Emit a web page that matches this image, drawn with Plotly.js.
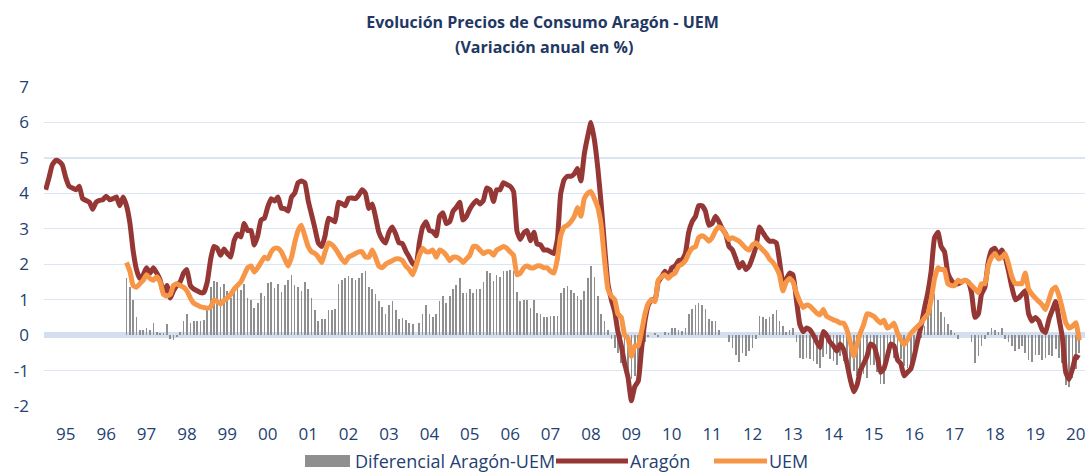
<!DOCTYPE html>
<html>
<head>
<meta charset="utf-8">
<script src="https://cdn.plot.ly/plotly-3.0.1.min.js"></script>
<style>
html,body{margin:0;padding:0;background:#ffffff;}
#chart{width:1085px;height:475px;}
</style>
</head>
<body>
<div id="chart"></div>
<script>
// Monthly annual-rate series (Jan 1995 .. Aug 2020)
const aragonStartYear = 1995;
const aragon = [
  4.1, 4.45, 4.8, 4.93, 4.9, 4.8, 4.45, 4.2, 4.15, 4.1, 4.2, 3.85,        // 1995
  3.8, 3.75, 3.55, 3.75, 3.8, 3.82, 3.92, 3.82, 3.85, 3.9, 3.65, 3.9,     // 1996
  3.65, 3.15, 2.4, 1.85, 1.6, 1.7, 1.9, 1.75, 1.9, 1.75, 1.55, 1.2,       // 1997
  1.4, 1.05, 1.25, 1.4, 1.5, 1.75, 1.85, 1.4, 1.3, 1.25, 1.2, 1.2,        // 1998
  1.5, 2.15, 2.5, 2.45, 2.25, 2.43, 2.3, 2.2, 2.67, 2.85, 2.77, 3.15,     // 1999
  2.95, 2.95, 2.54, 2.8, 3.25, 3.3, 3.62, 3.85, 3.78, 3.9, 3.58, 3.57,    // 2000
  3.5, 3.9, 4.0, 4.3, 4.35, 4.3, 3.8, 3.4, 3.0, 2.6, 2.5, 2.8,            // 2001
  3.3, 3.25, 3.2, 3.75, 3.71, 3.65, 3.86, 3.87, 3.85, 3.95, 4.1, 4.0,     // 2002
  3.57, 3.7, 3.35, 2.9, 2.7, 2.6, 2.9, 3.05, 2.85, 2.6, 2.58, 2.37,       // 2003
  2.2, 2.02, 1.95, 2.6, 3.05, 3.2, 2.95, 2.92, 2.8, 3.35, 3.45, 3.15,     // 2004
  3.2, 3.5, 3.6, 3.75, 3.25, 3.35, 3.55, 3.7, 3.8, 3.7, 3.8, 4.15,        // 2005
  4.1, 3.77, 4.1, 4.1, 4.3, 4.25, 4.2, 4.05, 2.93, 2.7, 2.88, 2.95,       // 2006
  2.66, 2.9, 2.57, 2.55, 2.4, 2.4, 2.35, 2.3, 2.7, 3.99, 4.38, 4.48,      // 2007
  4.48, 4.55, 4.7, 4.35, 5.1, 5.6, 6.0, 5.5, 4.7, 3.7, 2.5, 1.45,         // 2008
  1.0, 0.65, 0.1, -0.3, -0.8, -1.2, -1.85, -1.45, -1.3, -0.4, 0.4, 0.85,  // 2009
  1.0, 1.0, 1.5, 1.65, 1.8, 1.65, 1.9, 1.95, 2.1, 2.12, 2.3, 2.9,         // 2010
  3.2, 3.35, 3.65, 3.65, 3.5, 3.1, 3.15, 3.35, 3.2, 3.0, 2.85, 2.5,       // 2011
  2.4, 2.15, 1.9, 2.05, 1.85, 1.95, 2.2, 2.5, 3.05, 2.9, 2.75, 2.65,      // 2012
  2.65, 2.6, 2.1, 1.5, 1.58, 1.75, 1.7, 1.0, 0.3, 0.1, 0.2, 0.15,         // 2013
  0.0, -0.2, -0.35, 0.1, 0.0, -0.2, -0.3, -0.45, -0.25, -0.4, -0.8, -1.25, // 2014
  -1.6, -1.4, -1.0, -0.8, -0.6, -0.25, -0.3, -0.6, -1.05, -0.95, -0.6, -0.25, // 2015
  -0.3, -0.7, -0.8, -1.15, -1.05, -0.95, -0.6, -0.15, 0.25, 0.75, 1.2, 1.8,   // 2016
  2.75, 2.9, 2.5, 2.35, 1.75, 1.55, 1.45, 1.45, 1.5, 1.55, 1.5, 1.2,      // 2017
  0.5, 0.6, 1.15, 1.35, 2.05, 2.4, 2.45, 2.25, 2.4, 2.2, 1.8, 1.35,       // 2018
  1.0, 1.05, 1.15, 1.25, 0.6, 0.4, 0.5, 0.4, 0.15, 0.07, 0.45, 0.7,       // 2019
  0.95, 0.45, -0.05, -1.05, -1.25, -0.95, -0.6, -0.65                     // 2020
];

// UEM and differential start in Jan 1997
const uemStartYear = 1997;
const uem = [
  2.05, 1.8, 1.4, 1.35, 1.45, 1.55, 1.7, 1.6, 1.55, 1.65, 1.5, 1.15,      // 1997
  1.1, 1.15, 1.4, 1.45, 1.4, 1.35, 1.25, 1.05, 0.9, 0.85, 0.8, 0.78,      // 1998
  0.76, 0.8, 0.98, 0.95, 0.88, 0.98, 1.05, 1.15, 1.3, 1.4, 1.5, 1.7,      // 1999
  1.9, 1.95, 1.78, 1.9, 2.05, 2.2, 2.15, 2.35, 2.45, 2.45, 2.35, 2.15,    // 2000
  1.95, 2.2, 2.6, 2.95, 3.1, 2.8, 2.5, 2.35, 2.3, 2.2, 2.05, 2.35,        // 2001
  2.6, 2.55, 2.45, 2.3, 2.15, 2.05, 2.2, 2.25, 2.3, 2.35, 2.35, 2.2,      // 2002
  2.2, 2.4, 2.2, 1.95, 1.9, 2.0, 2.05, 2.1, 2.15, 2.15, 2.1, 1.95,        // 2003
  1.85, 1.7, 1.95, 2.25, 2.45, 2.35, 2.35, 2.4, 2.2, 2.4, 2.35, 2.25,     // 2004
  2.1, 2.2, 2.2, 2.15, 2.05, 2.15, 2.25, 2.5, 2.5, 2.4, 2.3, 2.35,        // 2005
  2.35, 2.25, 2.4, 2.45, 2.5, 2.45, 2.35, 2.25, 1.7, 1.75, 1.9, 1.95,     // 2006
  1.9, 1.9, 1.95, 1.95, 1.9, 1.9, 1.8, 1.75, 2.15, 2.8, 3.05, 3.1,        // 2007
  3.2, 3.35, 3.6, 3.35, 3.85, 4.0, 4.05, 3.85, 3.6, 3.1, 2.1, 1.3,        // 2008
  1.1, 1.0, 0.6, 0.5, 0.0, -0.1, -0.6, -0.3, -0.3, 0.1, 0.6, 0.9,         // 2009
  1.0, 0.95, 1.55, 1.65, 1.7, 1.6, 1.7, 1.75, 1.95, 2.0, 2.1, 2.3,        // 2010
  2.45, 2.5, 2.75, 2.8, 2.75, 2.65, 2.75, 2.95, 3.05, 3.0, 2.85, 2.7,     // 2011
  2.75, 2.7, 2.65, 2.55, 2.45, 2.4, 2.55, 2.6, 2.5, 2.4, 2.3, 2.15,       // 2012
  2.05, 1.9, 1.7, 1.25, 1.5, 1.6, 1.5, 1.2, 0.95, 0.78, 0.85, 0.82,       // 2013
  0.72, 0.62, 0.57, 0.72, 0.53, 0.48, 0.43, 0.4, 0.34, 0.34, 0.15, -0.2,  // 2014
  -0.6, -0.25, 0.05, 0.3, 0.6, 0.58, 0.53, 0.43, 0.34, 0.42, 0.2, 0.25,   // 2015
  0.34, 0.05, -0.13, -0.27, -0.13, 0.05, 0.15, 0.25, 0.34, 0.48, 0.6, 1.0, // 2016
  1.6, 1.9, 1.85, 1.85, 1.45, 1.4, 1.4, 1.55, 1.5, 1.55, 1.5, 1.4,        // 2017
  1.3, 1.2, 1.45, 1.45, 1.95, 2.2, 2.3, 2.15, 2.2, 2.3, 2.0, 1.65,        // 2018
  1.45, 1.45, 1.45, 1.75, 1.3, 1.15, 1.05, 0.95, 0.85, 0.72, 1.0, 1.28,   // 2019
  1.35, 1.1, 0.75, 0.35, 0.2, 0.25, 0.35, -0.15                           // 2020
];

const diferencial = [
  1.6, 1.35, 1.0, 0.5, 0.15, 0.15, 0.2, 0.15, 0.35, 0.1, 0.05, 0.05,      // 1997
  0.3, -0.1, -0.15, -0.05, 0.1, 0.4, 0.6, 0.35, 0.4, 0.4, 0.4, 0.42,      // 1998
  0.74, 1.35, 1.52, 1.5, 1.37, 1.45, 1.25, 1.05, 1.37, 1.45, 1.27, 1.45,  // 1999
  1.05, 1.0, 0.76, 0.9, 1.2, 1.1, 1.47, 1.5, 1.33, 1.45, 1.23, 1.42,      // 2000
  1.55, 1.7, 1.4, 1.35, 1.25, 1.5, 1.3, 1.05, 0.7, 0.4, 0.45, 0.45,       // 2001
  0.7, 0.7, 0.75, 1.45, 1.56, 1.6, 1.66, 1.62, 1.55, 1.6, 1.75, 1.8,      // 2002
  1.37, 1.3, 1.15, 0.95, 0.8, 0.6, 0.85, 0.95, 0.7, 0.45, 0.48, 0.42,     // 2003
  0.35, 0.32, 0.0, 0.35, 0.6, 0.85, 0.6, 0.52, 0.6, 0.95, 1.1, 0.9,       // 2004
  1.1, 1.3, 1.4, 1.6, 1.2, 1.2, 1.3, 1.2, 1.3, 1.3, 1.5, 1.8,             // 2005
  1.75, 1.52, 1.7, 1.65, 1.8, 1.8, 1.85, 1.8, 1.23, 0.95, 0.98, 1.0,      // 2006
  0.76, 1.0, 0.62, 0.6, 0.5, 0.5, 0.55, 0.55, 0.55, 1.19, 1.33, 1.38,     // 2007
  1.28, 1.2, 1.1, 1.0, 1.25, 1.6, 1.95, 1.65, 1.1, 0.6, 0.4, 0.15,        // 2008
  -0.1, -0.35, -0.5, -0.8, -0.8, -1.1, -1.25, -1.15, -1.0, -0.5, -0.2, -0.05, // 2009
  0.0, 0.05, -0.05, 0.0, 0.1, 0.05, 0.2, 0.2, 0.15, 0.12, 0.2, 0.6,       // 2010
  0.75, 0.85, 0.9, 0.85, 0.75, 0.45, 0.4, 0.4, 0.15, 0.0, 0.0, -0.2,      // 2011
  -0.35, -0.55, -0.75, -0.5, -0.6, -0.45, -0.35, -0.1, 0.55, 0.5, 0.45, 0.5, // 2012
  0.6, 0.7, 0.4, 0.25, 0.08, 0.15, 0.2, -0.2, -0.65, -0.68, -0.65, -0.67, // 2013
  -0.72, -0.82, -0.92, -0.62, -0.53, -0.68, -0.73, -0.85, -0.59, -0.74, -0.95, -1.05, // 2014
  -1.0, -1.15, -1.05, -1.1, -1.2, -0.83, -0.83, -1.03, -1.39, -1.37, -0.8, -0.5,      // 2015
  -0.64, -0.75, -0.67, -0.88, -0.92, -1.0, -0.75, -0.4, -0.09, 0.27, 0.6, 0.8,        // 2016
  1.15, 1.0, 0.65, 0.5, 0.3, 0.15, 0.05, -0.1, 0.0, 0.0, 0.0, -0.2,       // 2017
  -0.8, -0.6, -0.3, -0.1, 0.1, 0.2, 0.15, 0.1, 0.2, -0.1, -0.2, -0.3,     // 2018
  -0.45, -0.4, -0.3, -0.5, -0.7, -0.75, -0.55, -0.55, -0.7, -0.65, -0.55, -0.58, // 2019
  -0.4, -0.65, -0.8, -1.4, -1.45, -1.2, -0.95, -0.5                       // 2020
];

const yearLabels = ['95','96','97','98','99','00','01','02','03','04','05','06','07',
                    '08','09','10','11','12','13','14','15','16','17','18','19','20'];
const yTickVals = [-2, -1, 0, 1, 2, 3, 4, 5, 6, 7];
const yTickText = ['-2', '-1', '0', '1', '2', '3', '4', '5', '6', '7'];
const seriesNames = ['Diferencial Aragón-UEM', 'Aragón', 'UEM'];

function monthDates(startYear, n) {
  const out = [];
  for (let i = 0; i < n; i++) {
    const y = startYear + Math.floor(i / 12);
    const m = (i % 12) + 1;
    out.push(y + '-' + (m < 10 ? '0' + m : m) + '-01');
  }
  return out;
}
const xAragon = monthDates(aragonStartYear, aragon.length);
const xUem = monthDates(uemStartYear, uem.length);
const tickVals = yearLabels.map((t, i) => (aragonStartYear + i) + '-07-01');

const FONT = '"Open Sans", "DejaVu Sans", sans-serif';
const TXT = '#243F72';
const C_BAR = '#8F8F8F', C_AR = '#953735', C_UEM = '#F79646';

const traces = [
  {
    type: 'bar', name: seriesNames[0],
    x: xUem, y: diferencial,
    width: 1.3e9,
    marker: {color: C_BAR, line: {width: 0}}
  },
  {
    type: 'scatter', mode: 'lines', name: seriesNames[1],
    x: xAragon, y: aragon,
    line: {color: C_AR, width: 5, shape: 'spline', smoothing: 0.4}
  },
  {
    type: 'scatter', mode: 'lines', name: seriesNames[2],
    x: xUem, y: uem,
    line: {color: C_UEM, width: 5, shape: 'spline', smoothing: 0.4}
  }
];

// pixel -> paper helpers (plot area: x 44..1085, y 87..406)
const PL = 44, PW = 1041, PT = 87, PH = 319;
const px = v => (v - PL) / PW;
const py = v => (PT + PH - v) / PH;
const LEG_Y = 461;

const shapes = [
  {type: 'rect', xref: 'paper', yref: 'paper', x0: px(305), x1: px(350), y0: py(LEG_Y + 6), y1: py(LEG_Y - 6),
   fillcolor: C_BAR, line: {width: 0}},
  {type: 'line', xref: 'paper', yref: 'paper', x0: px(556), x1: px(628), y0: py(LEG_Y), y1: py(LEG_Y),
   line: {color: C_AR, width: 5}},
  {type: 'line', xref: 'paper', yref: 'paper', x0: px(714), x1: px(767), y0: py(LEG_Y), y1: py(LEG_Y),
   line: {color: C_UEM, width: 5}}
];

const legendAnn = (text, x) => ({
  text: text, xref: 'paper', yref: 'paper', x: px(x), y: py(LEG_Y),
  xanchor: 'left', yanchor: 'middle', showarrow: false,
  font: {family: FONT, size: 18, color: TXT}
});

const layout = {
  width: 1085, height: 475,
  margin: {l: PL, r: 0, t: PT, b: 475 - PT - PH, pad: 0},
  paper_bgcolor: '#ffffff', plot_bgcolor: '#ffffff',
  font: {family: FONT, color: TXT, size: 17},
  title: {
    text: '<b>Evolución Precios de Consumo Aragón - UEM</b>',
    font: {family: FONT, size: 16, color: '#1F3864'},
    x: 0.5, xref: 'container', xanchor: 'center',
    y: 1 - 22 / 475, yref: 'container', yanchor: 'middle'
  },
  annotations: [
    {
      text: '<b>(Variación anual en %)</b>',
      xref: 'paper', yref: 'paper',
      x: px(544), y: py(47),
      xanchor: 'center', yanchor: 'middle', showarrow: false,
      font: {family: FONT, size: 16, color: '#1F3864'}
    },
    legendAnn(seriesNames[0], 353),
    legendAnn(seriesNames[1], 628),
    legendAnn(seriesNames[2], 767)
  ],
  shapes: shapes,
  xaxis: {
    type: 'date',
    range: ['1994-12-17', '2020-09-22'],
    tickvals: tickVals, ticktext: yearLabels,
    showgrid: false, zeroline: false, showline: false, ticks: '',
    tickfont: {family: FONT, size: 17, color: TXT},
    ticklabelstandoff: 16,
    ticklabeloverflow: 'allow',
    fixedrange: true
  },
  yaxis: {
    range: [-2, 7], tickvals: yTickVals, ticktext: yTickText,
    showgrid: true, gridcolor: '#DCE6F2', gridwidth: 1.3,
    zeroline: true, zerolinecolor: '#D3DFEE', zerolinewidth: 6,
    showline: false, ticks: '',
    tickfont: {family: FONT, size: 17, color: TXT},
    ticklabelstandoff: 14,
    fixedrange: true
  },
  bargap: 0,
  showlegend: false
};

Plotly.newPlot('chart', traces, layout, {displayModeBar: false, staticPlot: true});
</script>
</body>
</html>
